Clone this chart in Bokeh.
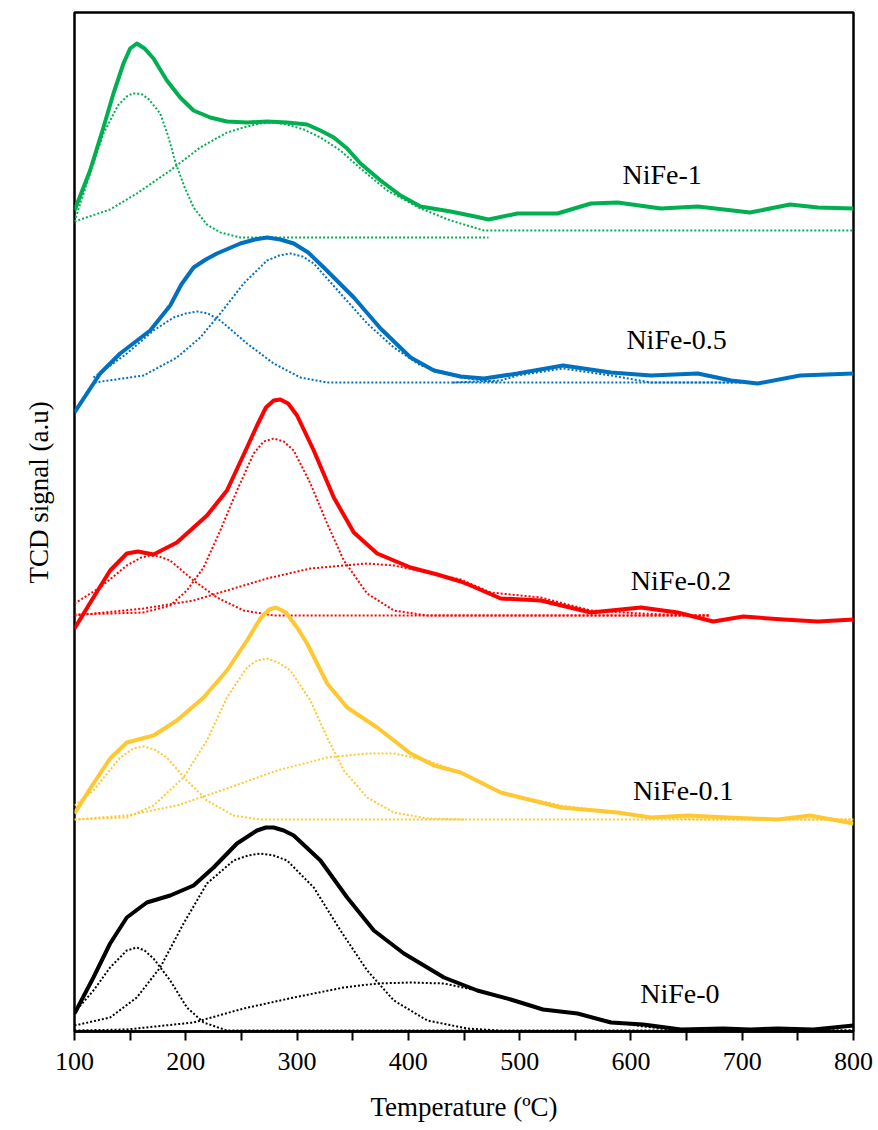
from bokeh.plotting import figure
from bokeh.models import Range1d, FixedTicker, Title
from bokeh.core.properties import value
from bokeh.embed import file_html
from bokeh.resources import INLINE

# ---------------- data (temperature in °C, TCD signal in a.u., stacked) ----------------
x_ticks = [100, 200, 300, 400, 500, 600, 700, 800]
x_minor_ticks = [150, 250, 350, 450, 550, 650, 750]
sample_names = ["NiFe-1", "NiFe-0.5", "NiFe-0.2", "NiFe-0.1", "NiFe-0"]

# NiFe-1 (green)
nife1_T = [100, 114, 126, 135, 144, 150, 156, 163, 171, 183, 195, 207, 222, 237, 255, 273, 291, 309,
           321, 333, 345, 357, 375, 393, 411, 438, 460, 472, 498, 534, 564, 588, 627, 660, 707, 743,
           768, 800]
nife1_sig = [821, 861, 904, 938, 968, 983, 988, 983, 973, 951, 934, 921, 914, 910, 909, 910, 909, 907,
             901, 894, 883, 868, 851, 836, 825, 820, 815, 812, 818, 818, 828, 829, 823, 825, 819, 827,
             824, 823]
nife1_p1_T = [100, 114, 126, 139, 147, 152, 156, 161, 167, 177, 184, 191, 199, 207, 219, 231, 249, 472]
nife1_p1_sig = [810, 858, 898, 926, 935, 938, 938, 937, 932, 918, 896, 868, 844, 824, 807, 799, 794, 794]
nife1_p2_T = [100, 132, 156, 186, 213, 237, 255, 267, 279, 291, 306, 321, 339, 357, 381, 411, 438,
              468, 800]
nife1_p2_sig = [810, 822, 838, 861, 884, 899, 905, 908, 909, 907, 902, 894, 881, 863, 841, 823, 811,
                801, 801]

# NiFe-0.5 (blue)
nife05_T = [100, 123, 141, 168, 186, 196, 207, 218, 228, 249, 262, 273, 285, 297, 310, 324, 351, 375,
            402, 423, 447, 468, 498, 539, 582, 618, 660, 690, 714, 752, 800]
nife05_sig = [619, 658, 678, 701, 726, 747, 764, 772, 778, 788, 792, 794, 792, 788, 779, 764, 734, 703,
              674, 661, 655, 653, 658, 666, 659, 656, 658, 651, 648, 656, 658]
nife05_p1_T = [117, 126, 147, 171, 189, 200, 210, 220, 231, 255, 279, 303, 327, 700]
nife05_p1_sig = [654, 661, 678, 701, 714, 718, 720, 718, 711, 688, 668, 654, 649, 649]
nife05_p2_T = [118, 162, 192, 213, 231, 252, 273, 284, 294, 305, 315, 339, 363, 387, 411, 447, 480]
nife05_p2_sig = [649, 656, 674, 694, 718, 748, 771, 776, 778, 775, 768, 738, 708, 684, 666, 654, 649]
nife05_p3_T = [440, 483, 498, 539, 582, 618, 700]
nife05_p3_sig = [649, 651, 656, 663, 656, 649, 649]

# NiFe-0.2 (red)
nife02_T = [100, 117, 132, 147, 157, 171, 192, 219, 237, 255, 264, 272, 279, 285, 292, 300, 315, 333,
            351, 372, 402, 426, 447, 456, 483, 519, 564, 609, 642, 674, 701, 737, 768, 800]
nife02_sig = [403, 434, 461, 478, 480, 477, 489, 516, 541, 584, 606, 624, 631, 632, 628, 616, 581, 534,
              499, 478, 464, 457, 450, 446, 433, 431, 419, 424, 419, 410, 415, 412, 410, 412]
nife02_p1_T = [100, 123, 147, 160, 168, 176, 186, 207, 228, 252, 279, 670]
nife02_p1_sig = [428, 444, 466, 474, 476, 475, 471, 451, 434, 421, 416, 416]
nife02_p2_T = [100, 162, 186, 201, 216, 231, 246, 261, 270, 279, 288, 297, 312, 327, 342, 363, 387,
               417, 670]
nife02_p2_sig = [417, 419, 426, 441, 464, 501, 541, 578, 590, 593, 590, 581, 548, 508, 471, 438, 421,
                 416, 416]
nife02_p3_T = [100, 162, 207, 237, 273, 312, 342, 363, 387, 417, 447, 474, 519, 564, 609, 653, 670]
nife02_p3_sig = [416, 423, 431, 441, 453, 463, 466, 468, 466, 459, 452, 439, 434, 421, 418, 416, 416]

# NiFe-0.1 (yellow)
nife01_T = [100, 117, 132, 147, 171, 192, 216, 237, 255, 267, 275, 281, 290, 300, 309, 327, 345,
            372, 402, 423, 447, 483, 537, 588, 618, 651, 687, 732, 761, 800]
nife01_sig = [218, 248, 273, 289, 296, 311, 334, 361, 391, 413, 422, 424, 419, 404, 388, 348, 324,
              304, 278, 266, 259, 239, 224, 219, 214, 216, 214, 212, 216, 208]
nife01_p1_T = [100, 117, 141, 153, 162, 172, 183, 201, 219, 243, 267, 800]
nife01_p1_sig = [226, 241, 274, 283, 285, 282, 274, 251, 231, 216, 212, 212]
nife01_p2_T = [100, 147, 171, 198, 219, 237, 255, 264, 273, 283, 294, 312, 327, 342, 363, 387, 417,
               450]
nife01_p2_sig = [212, 214, 226, 254, 291, 334, 364, 371, 373, 369, 361, 331, 294, 261, 234, 219, 213,
                 212]
nife01_p3_T = [100, 147, 192, 237, 282, 327, 363, 387, 417, 447, 483, 537, 588, 618, 660, 800]
nife01_p3_sig = [212, 216, 226, 243, 261, 274, 278, 278, 271, 259, 239, 226, 219, 214, 212, 212]

# NiFe-0 (black)
nife0_T = [100, 117, 132, 147, 165, 186, 207, 225, 246, 264, 272, 279, 288, 297, 321, 345, 369, 396,
           432, 462, 492, 521, 552, 582, 611, 645, 683, 707, 732, 764, 800]
nife0_sig = [18, 54, 88, 114, 129, 136, 146, 164, 188, 201, 204, 204, 201, 196, 171, 134, 101, 78,
             54, 41, 32, 22, 18, 9, 7, 2, 3, 2, 3, 2, 6]
nife0_p1_T = [100, 117, 132, 147, 156, 163, 171, 186, 201, 216, 237, 800]
nife0_p1_sig = [19, 41, 64, 81, 84, 81, 73, 51, 24, 9, 1, 1]
nife0_p2_T = [100, 132, 156, 177, 198, 219, 243, 256, 267, 279, 291, 315, 339, 363, 387, 417, 453,
              480]
nife0_p2_sig = [6, 14, 34, 64, 108, 148, 171, 176, 178, 176, 171, 144, 101, 61, 31, 11, 3, 1]
nife0_p3_T = [100, 147, 207, 252, 297, 342, 372, 402, 432, 462, 468, 521, 552, 582, 611, 645, 800]
nife0_p3_sig = [1, 2, 9, 23, 34, 44, 48, 49, 48, 41, 39, 22, 18, 10, 5, 1, 1]

# ---------------- figure ----------------
SERIF = "Liberation Serif"
GREEN, BLUE, RED, YELLOW, BLACK = "#00B050", "#0070C0", "#FF0000", "#FFC832", "#000000"

p = figure(width=878, height=1130, output_backend="svg", toolbar_location=None,
           x_range=Range1d(100, 800), y_range=Range1d(0, 1019),
           min_border_left=74, min_border_right=25, min_border_top=12, min_border_bottom=99)
p.background_fill_color = "white"
p.border_fill_color = "white"
p.grid.visible = False
p.outline_line_color = "black"
p.outline_line_width = 2.5

xa = p.xaxis[0]
xa.ticker = FixedTicker(ticks=x_ticks, minor_ticks=x_minor_ticks)
xa.axis_line_width = 2.5
xa.major_tick_out = 9
xa.major_tick_in = 0
xa.minor_tick_out = 9
xa.minor_tick_in = 0
xa.major_tick_line_width = 2
xa.minor_tick_line_width = 2
xa.major_label_text_font = SERIF
xa.major_label_text_font_size = "26px"
xa.major_label_text_color = "black"
xa.major_label_standoff = 12
xa.axis_label = "Temperature (ºC)"
xa.axis_label_text_font = SERIF
xa.axis_label_text_font_size = "27px"
xa.axis_label_text_font_style = "normal"
xa.axis_label_text_color = "black"
xa.axis_label_standoff = 19

p.yaxis.visible = False
ytitle = Title(text="TCD signal (a.u)", align="left", offset=448, standoff=41,
               text_font=SERIF, text_font_size="27px", text_font_style="normal", text_color="black")
p.add_layout(ytitle, "left")

components = [
    (nife1_p1_T, nife1_p1_sig, GREEN), (nife1_p2_T, nife1_p2_sig, GREEN),
    (nife05_p1_T, nife05_p1_sig, BLUE), (nife05_p2_T, nife05_p2_sig, BLUE), (nife05_p3_T, nife05_p3_sig, BLUE),
    (nife02_p1_T, nife02_p1_sig, RED), (nife02_p2_T, nife02_p2_sig, RED), (nife02_p3_T, nife02_p3_sig, RED),
    (nife01_p1_T, nife01_p1_sig, YELLOW), (nife01_p2_T, nife01_p2_sig, YELLOW), (nife01_p3_T, nife01_p3_sig, YELLOW),
    (nife0_p1_T, nife0_p1_sig, BLACK), (nife0_p2_T, nife0_p2_sig, BLACK), (nife0_p3_T, nife0_p3_sig, BLACK),
]
for t, s, c in components:
    p.line(t, s, line_color=c, line_width=2, line_dash="2 2", line_join="round")

measured = [
    (nife1_T, nife1_sig, GREEN), (nife05_T, nife05_sig, BLUE), (nife02_T, nife02_sig, RED),
    (nife01_T, nife01_sig, YELLOW), (nife0_T, nife0_sig, BLACK),
]
for t, s, c in measured:
    p.line(t, s, line_color=c, line_width=4, line_join="round")

label_T = [628, 641, 645, 647, 644]
label_sig = [857, 692, 451, 241, 38]
p.text(x=label_T, y=label_sig, text=sample_names, text_font=value(SERIF), text_font_size="28px",
       text_align="center", text_baseline="alphabetic", text_color="black")

open("out.html", "w").write(file_html(p, INLINE))
